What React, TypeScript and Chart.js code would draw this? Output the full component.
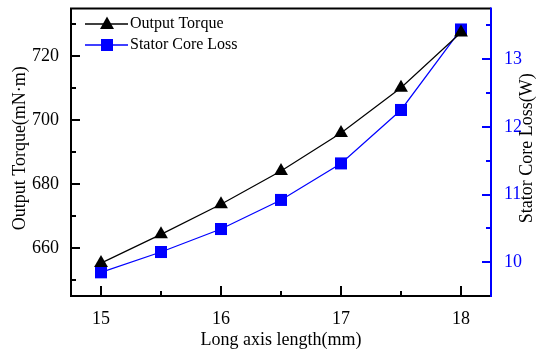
import React, { useEffect, useRef } from "react";
import { Chart, registerables } from "chart.js";

Chart.register(...registerables);

const lengths = [15, 15.5, 16, 16.5, 17, 17.5, 18];
const torque = [655.3, 664.3, 673.7, 684.1, 696.0, 710.2, 727.5];
const coreLoss = [9.85, 10.15, 10.49, 10.92, 11.46, 12.25, 13.44];

const xTicks = [15, 16, 17, 18];
const xMinor = [15.5, 16.5, 17.5];
const torqueTicks = [660, 680, 700, 720];
const torqueMinor = [650, 670, 690, 710, 730];
const lossTicks = [10, 11, 12, 13];
const lossMinor = [10.5, 11.5, 12.5, 13.5];

const seriesNames = ["Output Torque", "Stator Core Loss"];
const xTitle = "Long axis length(mm)";
const yTitle = "Output Torque(mN·m)";
const y1Title = "Stator Core Loss(W)";

const FONT = "'Liberation Serif', 'Times New Roman', serif";
const BLUE = "#0000FF";
const BLACK = "#000000";

const framePlugin = {
  id: "framePlugin",
  afterDraw(chart: any) {
    const { ctx, chartArea: a, scales } = chart;
    const { left, right, top, bottom } = a;
    ctx.save();
    ctx.lineWidth = 2;
    ctx.lineCap = "butt";
    ctx.strokeStyle = BLACK;
    ctx.beginPath();
    ctx.moveTo(left, top);
    ctx.lineTo(right, top);
    ctx.moveTo(left, top - 1);
    ctx.lineTo(left, bottom + 1);
    ctx.moveTo(left - 1, bottom);
    ctx.lineTo(right, bottom);
    ctx.stroke();
    ctx.strokeStyle = BLUE;
    ctx.beginPath();
    ctx.moveTo(right, top - 1);
    ctx.lineTo(right, bottom + 1);
    ctx.stroke();

    const tickY = (scale: any, vals: number[], len: number, x: number, dir: number, color: string) => {
      ctx.strokeStyle = color;
      ctx.beginPath();
      vals.forEach((v) => {
        const y = Math.round(scale.getPixelForValue(v));
        if (y <= top + 1 || y >= bottom - 1) return;
        ctx.moveTo(x, y);
        ctx.lineTo(x + dir * len, y);
      });
      ctx.stroke();
    };
    tickY(scales.y, torqueTicks, 9, left, 1, BLACK);
    tickY(scales.y, torqueMinor, 5, left, 1, BLACK);
    tickY(scales.y1, lossTicks, 9, right, -1, BLUE);
    tickY(scales.y1, lossMinor, 5, right, -1, BLUE);
    ctx.strokeStyle = BLACK;
    ctx.beginPath();
    xTicks.forEach((v) => {
      const x = Math.round(scales.x.getPixelForValue(v));
      ctx.moveTo(x, bottom);
      ctx.lineTo(x, bottom - 10);
    });
    xMinor.forEach((v) => {
      const x = Math.round(scales.x.getPixelForValue(v));
      ctx.moveTo(x, bottom);
      ctx.lineTo(x, bottom - 5);
    });
    ctx.stroke();

    ctx.fillStyle = BLACK;
    ctx.font = `18px ${FONT}`;
    ctx.textAlign = "center";
    ctx.textBaseline = "middle";
    ctx.fillText(xTitle, (left + right) / 2, 340);
    ctx.save();
    ctx.translate(20, (top + bottom) / 2 - 4);
    ctx.rotate(-Math.PI / 2);
    ctx.fillText(yTitle, 0, 0);
    ctx.restore();
    ctx.save();
    ctx.translate(527, (top + bottom) / 2 - 4);
    ctx.rotate(-Math.PI / 2);
    ctx.fillText(y1Title, 0, 0);
    ctx.restore();

    const legendItems = [
      { name: seriesNames[0], color: BLACK, style: "triangle", y: 24 },
      { name: seriesNames[1], color: BLUE, style: "rect", y: 45 },
    ];
    legendItems.forEach((it) => {
      ctx.strokeStyle = it.color;
      ctx.lineWidth = 1.5;
      ctx.beginPath();
      ctx.moveTo(85, it.y);
      ctx.lineTo(128, it.y);
      ctx.stroke();
      ctx.fillStyle = it.color;
      ctx.beginPath();
      if (it.style === "triangle") {
        ctx.moveTo(107, it.y - 7.5);
        ctx.lineTo(114, it.y + 5);
        ctx.lineTo(100, it.y + 5);
        ctx.closePath();
      } else {
        ctx.rect(101, it.y - 6, 12, 12);
      }
      ctx.fill();
      ctx.fillStyle = BLACK;
      ctx.font = `16px ${FONT}`;
      ctx.textAlign = "left";
      ctx.textBaseline = "middle";
      ctx.fillText(it.name, 130, it.y);
    });
    ctx.restore();
  },
};

const zeroPad = (s: any) => {
  s.paddingTop = 0;
  s.paddingBottom = 0;
  s.paddingLeft = 0;
  s.paddingRight = 0;
};

export default function App() {
  const ref = useRef<HTMLCanvasElement | null>(null);
  useEffect(() => {
    document.body.style.margin = "0";
    const canvas = ref.current!;
    const chart = new Chart(canvas, {
      type: "line",
      data: {
        datasets: [
          {
            label: seriesNames[0],
            data: lengths.map((x, i) => ({ x, y: torque[i] })),
            yAxisID: "y",
            borderColor: BLACK,
            backgroundColor: BLACK,
            borderWidth: 1.2,
            pointStyle: "triangle",
            pointRadius: 8,
            pointBorderWidth: 0,
            pointBackgroundColor: BLACK,
            tension: 0,
            clip: false,
          },
          {
            label: seriesNames[1],
            data: lengths.map((x, i) => ({ x, y: coreLoss[i] })),
            yAxisID: "y1",
            borderColor: BLUE,
            backgroundColor: BLUE,
            borderWidth: 1.2,
            pointStyle: "rect",
            pointRadius: 8.5,
            pointBorderWidth: 0,
            pointBackgroundColor: BLUE,
            tension: 0,
            clip: false,
          },
        ],
      },
      options: {
        responsive: false,
        animation: false,
        devicePixelRatio: 1,
        layout: { padding: { top: 8, left: 0, right: 0, bottom: 0 } },
        plugins: { legend: { display: false }, tooltip: { enabled: false } },
        scales: {
          x: {
            type: "linear",
            min: 14.75,
            max: 18.25,
            afterBuildTicks: (s: any) => {
              s.ticks = xTicks.map((v) => ({ value: v }));
            },
            afterFit: (s: any) => {
              s.height = 58;
              zeroPad(s);
            },
            grid: { display: false, drawTicks: false },
            border: { display: false },
            ticks: {
              color: BLACK,
              font: { family: FONT, size: 18 },
              padding: 12,
              maxRotation: 0,
            },
          },
          y: {
            type: "linear",
            position: "left",
            min: 645,
            max: 735,
            afterBuildTicks: (s: any) => {
              s.ticks = torqueTicks.map((v) => ({ value: v }));
            },
            afterFit: (s: any) => {
              s.width = 71;
              zeroPad(s);
            },
            grid: { display: false, drawTicks: false },
            border: { display: false },
            ticks: {
              color: BLACK,
              font: { family: FONT, size: 18 },
              padding: 12,
            },
          },
          y1: {
            type: "linear",
            position: "right",
            min: 9.5,
            max: 13.75,
            afterBuildTicks: (s: any) => {
              s.ticks = lossTicks.map((v) => ({ value: v }));
            },
            afterFit: (s: any) => {
              s.width = 50;
              zeroPad(s);
            },
            grid: { display: false, drawTicks: false },
            border: { display: false },
            ticks: {
              color: BLUE,
              font: { family: FONT, size: 18 },
              padding: 13,
            },
          },
        },
      },
      plugins: [framePlugin],
    } as any);
    return () => chart.destroy();
  }, []);
  return (
    <div style={{ position: "absolute", left: 0, top: 0, width: 541, height: 354 }}>
      <canvas ref={ref} width={541} height={354} style={{ width: 541, height: 354 }} />
    </div>
  );
}
